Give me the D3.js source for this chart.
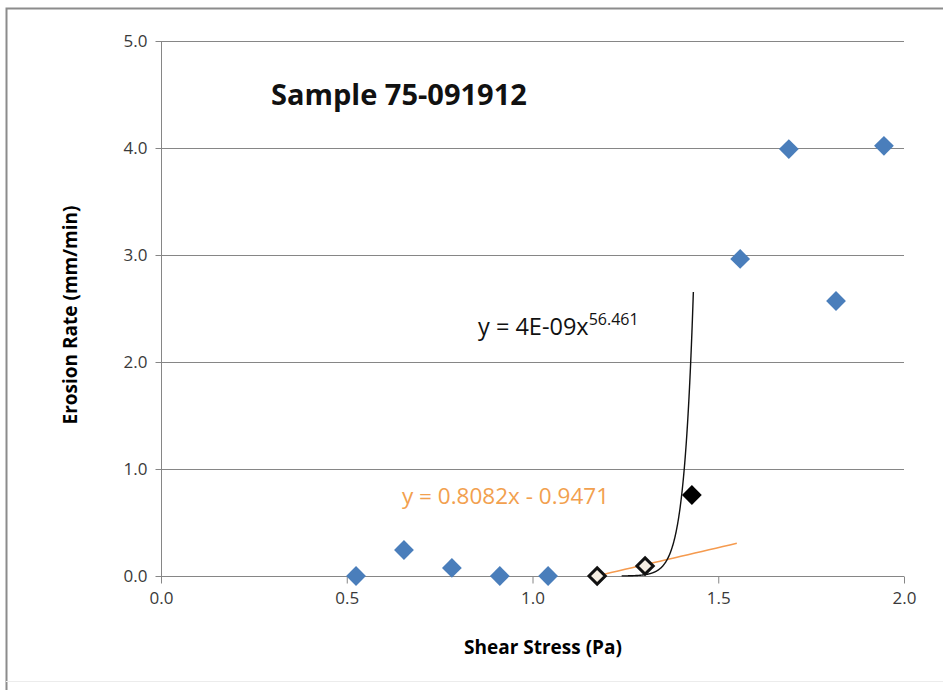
<!DOCTYPE html>
<html>
<head>
<meta charset="utf-8">
<script src="https://cdn.jsdelivr.net/npm/d3@7"></script>
<style>
  html, body { margin: 0; padding: 0; background: #fff; }
  svg { display: block; }
</style>
</head>
<body>
<svg id="chart" width="943" height="691"></svg>
<script>
// ---- data ----
const blueX = [0.525, 0.654, 0.783, 0.912, 1.042, 1.559, 1.690, 1.817, 1.946];
const blueY = [0.0, 0.243, 0.075, 0.0, 0.0, 2.963, 3.990, 2.570, 4.020];
const openX = [1.174, 1.303];
const openY = [0.0, 0.093];
const blackX = [1.429];
const blackY = [0.757];
const xTicks = [0.0, 0.5, 1.0, 1.5, 2.0];
const yTicks = [0.0, 1.0, 2.0, 3.0, 4.0, 5.0];
const linA = 0.8082, linB = -0.9471, linRange = [1.174, 1.55];
const powA = 4e-9, powB = 56.461, powRange = [1.24, 1.433];
const titleText = "Sample 75-091912";
const xTitle = "Shear Stress (Pa)";
const yTitle = "Erosion Rate (mm/min)";

const svg = d3.select("#chart");
const font = "'Open Sans', 'Noto Sans', sans-serif";
const x = d3.scaleLinear().domain([0, 2]).range([161, 904]);
const y = d3.scaleLinear().domain([0, 5]).range([576, 41]);

// outer border
svg.append("path")
  .attr("d", "M6.5,690 L6.5,8.5 L943,8.5")
  .attr("fill", "none").attr("stroke", "#8c8c8c").attr("stroke-width", 2);
svg.append("line").attr("x1", 6).attr("x2", 943).attr("y1", 681.5).attr("y2", 681.5)
  .attr("stroke", "#ececec").attr("stroke-width", 1);

// gridlines
svg.append("g").selectAll("line").data(yTicks.filter(d => d > 0)).join("line")
  .attr("x1", x(0)).attr("x2", x(2))
  .attr("y1", d => Math.round(y(d)) + 0.5).attr("y2", d => Math.round(y(d)) + 0.5)
  .attr("stroke", "#868686").attr("stroke-width", 1);

// axes
const fmt = d3.format(".1f");
const yAxis = svg.append("g").attr("transform", `translate(${x(0) + 0.5},0)`)
  .call(d3.axisLeft(y).tickValues(yTicks).tickFormat(fmt).tickSize(6).tickPadding(8));
const xAxis = svg.append("g").attr("transform", `translate(0,${y(0) + 0.5})`)
  .call(d3.axisBottom(x).tickValues(xTicks).tickFormat(fmt).tickSize(7).tickPadding(8));
[yAxis, xAxis].forEach(g => {
  g.select(".domain").attr("stroke", "#868686");
  g.selectAll(".tick line").attr("stroke", "#868686");
  g.selectAll("text").attr("fill", "#3a3a3a").style("font-family", font).style("font-size", "17px");
});
xAxis.select(".domain").attr("d", `M${x(0)},0H${x(2)}`);
yAxis.select(".domain").attr("d", `M0,${y(0)}V${y(5)}`);

// axis titles
svg.append("text").attr("x", 543).attr("y", 654).attr("text-anchor", "middle")
  .style("font-family", font).style("font-size", "19px").style("font-weight", "bold")
  .attr("fill", "#000").text(xTitle);
svg.append("text").attr("transform", "translate(77,315) rotate(-90)").attr("text-anchor", "middle")
  .style("font-family", font).style("font-size", "19px").style("font-weight", "bold")
  .attr("fill", "#000").text(yTitle);

// trend lines
const linPts = d3.range(0, 21).map(i => linRange[0] + (linRange[1] - linRange[0]) * i / 20);
svg.append("path").datum(linPts)
  .attr("d", d3.line().x(d => x(d)).y(d => y(linA * d + linB)))
  .attr("fill", "none").attr("stroke", "#F59A4E").attr("stroke-width", 1.5);

const powPts = d3.range(0, 301).map(i => powRange[0] + (powRange[1] - powRange[0]) * i / 300);
svg.append("path").datum(powPts)
  .attr("d", d3.line().x(d => x(d)).y(d => y(powA * Math.pow(d, powB))))
  .attr("fill", "none").attr("stroke", "#111").attr("stroke-width", 1.4);

// markers
const diamond = (side) => {
  const h = side / Math.SQRT2;
  return `M0,${-h}L${h},0L0,${h}L${-h},0Z`;
};
svg.append("g").selectAll("path").data(blueX.map((d, i) => [d, blueY[i]])).join("path")
  .attr("transform", d => `translate(${x(d[0])},${y(d[1])})`)
  .attr("d", diamond(14)).attr("fill", "#4A7EBB");

svg.append("g").selectAll("path").data(openX.map((d, i) => [d, openY[i]])).join("path")
  .attr("transform", d => `translate(${x(d[0])},${y(d[1])})`)
  .attr("d", diamond(11.5)).attr("fill", "#F6EEE2").attr("stroke", "#111").attr("stroke-width", 3);

svg.append("g").selectAll("path").data(blackX.map((d, i) => [d, blackY[i]])).join("path")
  .attr("transform", d => `translate(${x(d[0])},${y(d[1])})`)
  .attr("d", diamond(14)).attr("fill", "#000");

// title
svg.append("text").attr("x", 271).attr("y", 105)
  .style("font-family", font).style("font-size", "29px").style("font-weight", "bold")
  .attr("fill", "#111").text(titleText);

// equations
const eq1 = svg.append("text").attr("x", 478).attr("y", 335)
  .style("font-family", font).style("font-size", "23.5px").attr("fill", "#111");
eq1.append("tspan").text("y = 4E-09x");
eq1.append("tspan").attr("dy", -10).style("font-size", "16px").text(powB.toFixed(3));

svg.append("text").attr("x", 402).attr("y", 504)
  .style("font-family", font).style("font-size", "22.5px").attr("fill", "#F2A04E")
  .text(`y = ${linA}x - ${Math.abs(linB)}`);
</script>
</body>
</html>
